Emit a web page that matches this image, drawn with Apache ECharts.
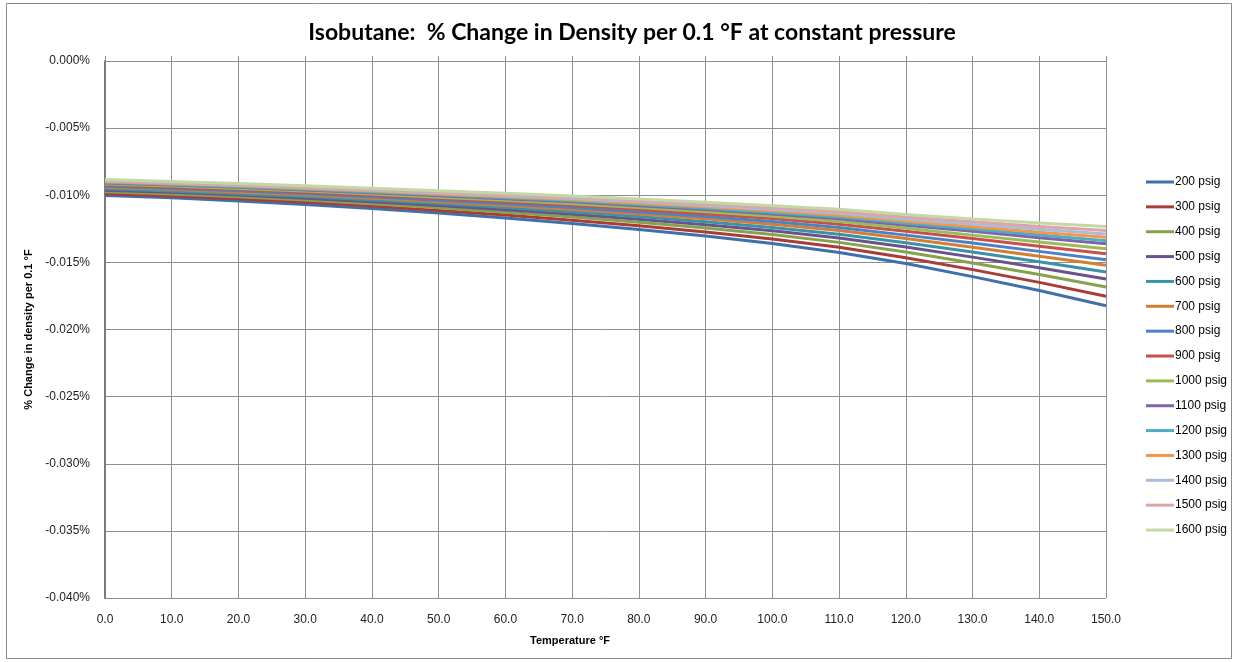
<!DOCTYPE html>
<html>
<head>
<meta charset="utf-8">
<script src="https://cdn.jsdelivr.net/npm/echarts@6/dist/echarts.min.js"></script>
<style>
  html, body { margin: 0; padding: 0; background: #ffffff; }
  #chart { width: 1238px; height: 662px; }
</style>
</head>
<body>
<div id="chart"></div>
<script>
// Temperature grid (°F)
const temps = [0, 10, 20, 30, 40, 50, 60, 70, 80, 90, 100, 110, 120, 130, 140, 150];

// % change in density per 0.1 °F, one array per gauge pressure
const psig200  = [-0.01002, -0.01019, -0.01043, -0.01069, -0.01099, -0.01133, -0.01170, -0.01211, -0.01256, -0.01304, -0.01360, -0.01427, -0.01509, -0.01606, -0.01710, -0.01823];
const psig300  = [-0.00988, -0.01005, -0.01027, -0.01052, -0.01081, -0.01113, -0.01148, -0.01186, -0.01228, -0.01274, -0.01326, -0.01388, -0.01465, -0.01554, -0.01649, -0.01752];
const psig400  = [-0.00974, -0.00991, -0.01012, -0.01036, -0.01063, -0.01093, -0.01126, -0.01162, -0.01202, -0.01244, -0.01293, -0.01351, -0.01422, -0.01504, -0.01591, -0.01684];
const psig500  = [-0.00962, -0.00978, -0.00999, -0.01022, -0.01048, -0.01077, -0.01108, -0.01141, -0.01179, -0.01219, -0.01264, -0.01318, -0.01386, -0.01461, -0.01540, -0.01624];
const psig600  = [-0.00951, -0.00968, -0.00988, -0.01010, -0.01035, -0.01062, -0.01092, -0.01123, -0.01159, -0.01197, -0.01240, -0.01290, -0.01353, -0.01423, -0.01496, -0.01572];
const psig700  = [-0.00941, -0.00957, -0.00977, -0.00998, -0.01022, -0.01048, -0.01076, -0.01106, -0.01140, -0.01176, -0.01216, -0.01263, -0.01323, -0.01387, -0.01454, -0.01522];
const psig800  = [-0.00933, -0.00949, -0.00967, -0.00988, -0.01011, -0.01037, -0.01063, -0.01091, -0.01124, -0.01158, -0.01196, -0.01240, -0.01297, -0.01356, -0.01418, -0.01481];
const psig900  = [-0.00924, -0.00940, -0.00958, -0.00978, -0.01000, -0.01024, -0.01049, -0.01075, -0.01106, -0.01139, -0.01174, -0.01216, -0.01269, -0.01323, -0.01380, -0.01436];
const psig1000 = [-0.00917, -0.00932, -0.00949, -0.00969, -0.00990, -0.01014, -0.01038, -0.01063, -0.01092, -0.01123, -0.01157, -0.01196, -0.01246, -0.01297, -0.01349, -0.01399];
const psig1100 = [-0.00909, -0.00924, -0.00941, -0.00960, -0.00981, -0.01003, -0.01026, -0.01049, -0.01078, -0.01107, -0.01139, -0.01175, -0.01223, -0.01269, -0.01316, -0.01361];
const psig1200 = [-0.00904, -0.00919, -0.00936, -0.00955, -0.00975, -0.00997, -0.01018, -0.01041, -0.01069, -0.01097, -0.01128, -0.01162, -0.01208, -0.01252, -0.01296, -0.01338];
const psig1300 = [-0.00899, -0.00914, -0.00930, -0.00949, -0.00968, -0.00990, -0.01011, -0.01032, -0.01059, -0.01086, -0.01116, -0.01149, -0.01193, -0.01234, -0.01275, -0.01313];
const psig1400 = [-0.00894, -0.00909, -0.00925, -0.00943, -0.00962, -0.00983, -0.01003, -0.01024, -0.01049, -0.01076, -0.01104, -0.01135, -0.01178, -0.01216, -0.01254, -0.01288];
const psig1500 = [-0.00889, -0.00904, -0.00920, -0.00937, -0.00956, -0.00976, -0.00995, -0.01015, -0.01040, -0.01065, -0.01092, -0.01122, -0.01162, -0.01198, -0.01233, -0.01263];
const psig1600 = [-0.00883, -0.00898, -0.00913, -0.00930, -0.00948, -0.00967, -0.00986, -0.01005, -0.01028, -0.01052, -0.01078, -0.01105, -0.01144, -0.01176, -0.01207, -0.01233];

const seriesNames = ['200 psig', '300 psig', '400 psig', '500 psig', '600 psig', '700 psig', '800 psig', '900 psig',
                     '1000 psig', '1100 psig', '1200 psig', '1300 psig', '1400 psig', '1500 psig', '1600 psig'];
const seriesValues = [psig200, psig300, psig400, psig500, psig600, psig700, psig800, psig900,
                      psig1000, psig1100, psig1200, psig1300, psig1400, psig1500, psig1600];
const seriesColors = ['#4070AA', '#AA3C38', '#86A24C', '#6A528A', '#3A92A8', '#D47E34', '#4A82C6', '#C8504C',
                      '#9BBB59', '#8064A8', '#4BACC6', '#F79646', '#A8BCDC', '#DBA6A5', '#C4D8A6'];

const axisFont = 'Liberation Sans, Arial, sans-serif';
const gridColor = '#8E8E8E';

const chart = echarts.init(document.getElementById('chart'), null, { renderer: 'canvas' });

const series = seriesNames.map((name, i) => ({
  name: name,
  type: 'line',
  xAxisIndex: 0,
  data: temps.map((t, j) => [t, seriesValues[i][j]]),
  showSymbol: false,
  symbol: 'none',
  smooth: false,
  lineStyle: { width: 3, color: seriesColors[i], join: 'round' },
  itemStyle: { color: seriesColors[i] },
  emphasis: { disabled: true },
  animation: false
}));

chart.setOption({
  animation: false,
  backgroundColor: '#ffffff',
  title: {
    text: 'Isobutane:  % Change in Density per 0.1 °F at constant pressure',
    left: 627,
    top: 16,
    textAlign: 'center',
    textStyle: { fontFamily: 'Lato, Liberation Sans, sans-serif', fontWeight: 'bold', fontSize: 23, color: '#000' }
  },
  graphic: [{
    type: 'rect',
    shape: { x: 6.5, y: 3.5, width: 1225, height: 655 },
    style: { fill: 'none', stroke: '#8A8A8A', lineWidth: 1 },
    silent: true,
    z: -1
  }],
  legend: {
    orient: 'vertical',
    left: 1141,
    top: 171,
    itemWidth: 28,
    itemHeight: 12,
    itemGap: 12.86,
    icon: 'path://M0,5 L28,5 L28,8 L0,8 Z',
    data: seriesNames,
    textStyle: { fontFamily: axisFont, fontSize: 12, color: '#000', padding: [0, 0, 0, -4] },
    selectedMode: false
  },
  grid: { left: 105, right: 132, top: 61, bottom: 64, containLabel: false },
  xAxis: [{
    type: 'value',
    position: 'bottom',
    min: 0,
    max: 150,
    interval: 10,
    name: 'Temperature °F',
    nameLocation: 'middle',
    nameGap: 37,
    nameTextStyle: { fontFamily: axisFont, fontWeight: 'bold', fontSize: 11, color: '#000', padding: [0, 71, 0, 0] },
    axisLine: { show: true, lineStyle: { color: gridColor, width: 1 } },
    axisTick: { show: false },
    axisLabel: { margin: 16, fontFamily: axisFont, fontSize: 12, color: '#222', formatter: v => v.toFixed(1) },
    splitLine: { show: true, lineStyle: { color: gridColor, width: 1 } }
  }, {
    type: 'value',
    position: 'top',
    min: 0,
    max: 150,
    interval: 10,
    axisLine: { show: true, lineStyle: { color: gridColor, width: 1 } },
    axisTick: { show: true, inside: false, length: 5, lineStyle: { color: gridColor } },
    axisLabel: { show: false },
    splitLine: { show: false }
  }],
  yAxis: {
    type: 'value',
    min: -0.04,
    max: 0,
    interval: 0.005,
    name: '% Change in density per 0.1 °F',
    nameLocation: 'middle',
    nameGap: 70,
    nameTextStyle: { fontFamily: axisFont, fontWeight: 'bold', fontSize: 11, color: '#000' },
    axisLine: { show: true, lineStyle: { color: '#7A7A7A', width: 2 } },
    axisTick: { show: false },
    axisLabel: { margin: 15, fontFamily: axisFont, fontSize: 12, color: '#222', formatter: v => v.toFixed(3) + '%' },
    splitLine: { show: true, lineStyle: { color: gridColor, width: 1 } }
  },
  series: series
});
</script>
</body>
</html>
